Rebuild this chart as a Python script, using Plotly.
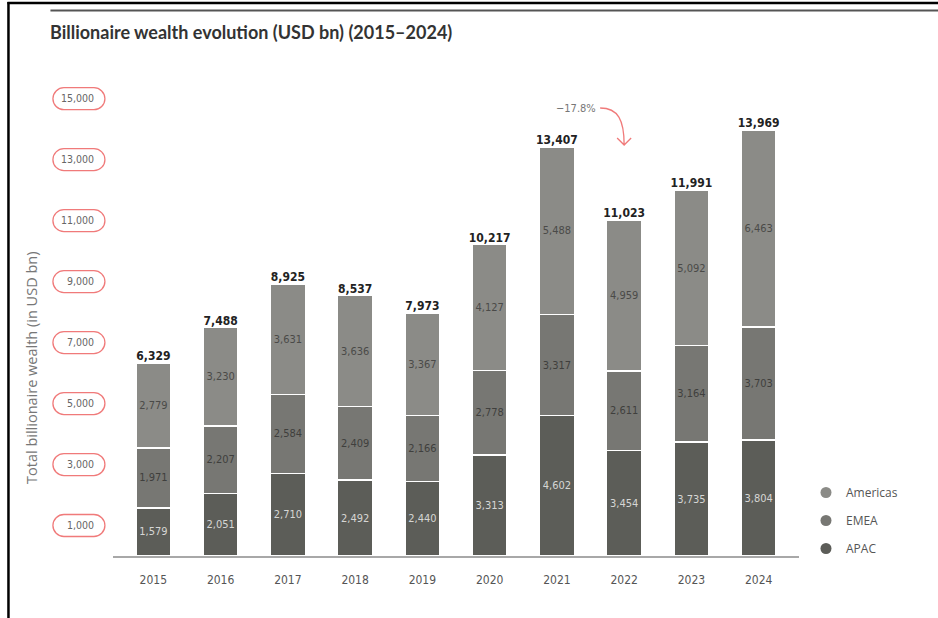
import plotly.graph_objects as go

years = ["2015", "2016", "2017", "2018", "2019", "2020", "2021", "2022", "2023", "2024"]
apac = [1579, 2051, 2710, 2492, 2440, 3313, 4602, 3454, 3735, 3804]
emea = [1971, 2207, 2584, 2409, 2166, 2778, 3317, 2611, 3164, 3703]
americas = [2779, 3230, 3631, 3636, 3367, 4127, 5488, 4959, 5092, 6463]
totals = [6329, 7488, 8925, 8537, 7973, 10217, 13407, 11023, 11991, 13969]
y_ticks = [1000, 3000, 5000, 7000, 9000, 11000, 13000, 15000]
change_label = "\u221217.8%"

NARROW = "Liberation Sans Narrow, DejaVu Sans Condensed, Arial Narrow, sans-serif"
xs = list(range(len(years)))

C_AM = "#8b8b87"
C_EM = "#777773"
C_AP = "#5c5d58"
RED = "#f07a7a"

fig = go.Figure()

def fmt(v):
    return f"{v:,}"

for name, vals, col, tcol in [("APAC", apac, C_AP, "#d6d6d4"),
                              ("EMEA", emea, C_EM, "#3f3f3d"),
                              ("Americas", americas, C_AM, "#4a4a48")]:
    fig.add_trace(go.Bar(
        x=xs, y=vals, name=name, marker=dict(color=col, line=dict(color="white", width=1.5)),
        text=[fmt(v) for v in vals], textposition="inside", insidetextanchor="middle",
        textangle=0, textfont=dict(family=NARROW, size=11, color=tcol),
        width=0.52, showlegend=False, hoverinfo="skip"))

fig.add_trace(go.Scatter(
    x=xs, y=totals, mode="text", text=[fmt(v) for v in totals],
    textposition="top center",
    textfont=dict(family=NARROW, size=12, color="#222222", weight="bold"),
    showlegend=False, hoverinfo="skip"))

for i, (name, col) in enumerate([("Americas", C_AM), ("EMEA", C_EM), ("APAC", C_AP)]):
    fig.add_trace(go.Scatter(
        x=[None], y=[None], mode="markers", name=name, legendgroup=name,
        marker=dict(symbol="circle", size=11, color=col)))

# plot geometry helpers (pixels)
L, R, T, B = 112.6, 139, 80, 62
W, H = 938 - L - R, 618 - T - B
def px(x):
    return (x - L) / W
def py(y):
    return (618 - B - y) / H

shapes = []
# tick label boxes
box = ("M -15,-11 L 15,-11 C 21,-11 26,-6 26,0 C 26,6 21,11 15,11 "
       "L -15,11 C -21,11 -26,6 -26,0 C -26,-6 -21,-11 -15,-11 Z")
for v in y_ticks:
    shapes.append(dict(type="path", xref="paper", yref="y", xsizemode="pixel", ysizemode="pixel",
                       xanchor=px(78.5), yanchor=v, path=box,
                       line=dict(color=RED, width=1.3), fillcolor="rgba(0,0,0,0)", layer="below"))
# arrow
shapes.append(dict(type="path", xref="x", yref="y", xsizemode="pixel", ysizemode="pixel",
                   xanchor=7, yanchor=14694,
                   path="M -24,0 C -6,0 0,-12 0,-37 M -7,-30 L 0,-37 L 7,-30",
                   line=dict(color=RED, width=1.3)))
# frame lines
shapes.append(dict(type="line", xref="paper", yref="paper", x0=px(7), x1=px(940), y0=py(3), y1=py(3),
                   line=dict(color="black", width=2.5)))
shapes.append(dict(type="line", xref="paper", yref="paper", x0=px(8), x1=px(8), y0=py(2), y1=py(620),
                   line=dict(color="black", width=2.5)))
shapes.append(dict(type="line", xref="paper", yref="paper", x0=px(50), x1=px(940), y0=py(10.5), y1=py(10.5),
                   line=dict(color="#555555", width=2)))

annotations = [
    dict(text=change_label, xref="x", yref="y", x=6.29, y=14694, showarrow=False,
         font=dict(family=NARROW, size=11, color="#777777")),
    dict(text="Total billionaire wealth (in USD bn)", xref="paper", yref="paper",
         x=px(19), y=py(368), textangle=-90, showarrow=False,
         font=dict(family="Open Sans, sans-serif", size=14.5, color="#777777")),
]

fig.update_layout(
    barmode="stack",
    width=938, height=618,
    margin=dict(l=L, r=R, t=T, b=B, pad=0),
    paper_bgcolor="white", plot_bgcolor="white",
    title=dict(text="Billionaire wealth evolution (USD bn) (2015\u20132024)",
               x=50 / 938, xanchor="left", y=1 - 33 / 618, yanchor="middle",
               font=dict(family="Lato, sans-serif", size=18, color="#333333", weight="bold")),
    xaxis=dict(range=[-0.6, 9.6], tickvals=xs, ticktext=years, showgrid=False, zeroline=False,
               showline=True, linecolor="#a8a8a8", linewidth=2, ticks="",
               ticklabelstandoff=12, tickfont=dict(family=NARROW, size=12, color="#555555")),
    yaxis=dict(range=[0, 476 * 32.8], tickvals=y_ticks, tickformat=",", showgrid=False,
               zeroline=False, showline=False, ticks="", ticklabelstandoff=18,
               tickfont=dict(family=NARROW, size=10.5, color="#666666")),
    legend=dict(x=px(806), y=py(478), xanchor="left", yanchor="top", tracegroupgap=9,
                font=dict(family="Open Sans, sans-serif", size=12, color="#555555"),
                bgcolor="rgba(0,0,0,0)"),
    shapes=shapes, annotations=annotations,
    showlegend=True, hovermode=False,
)

fig.write_html("out.html", config={"displayModeBar": False},
               post_script="document.body.style.margin='0px';")
